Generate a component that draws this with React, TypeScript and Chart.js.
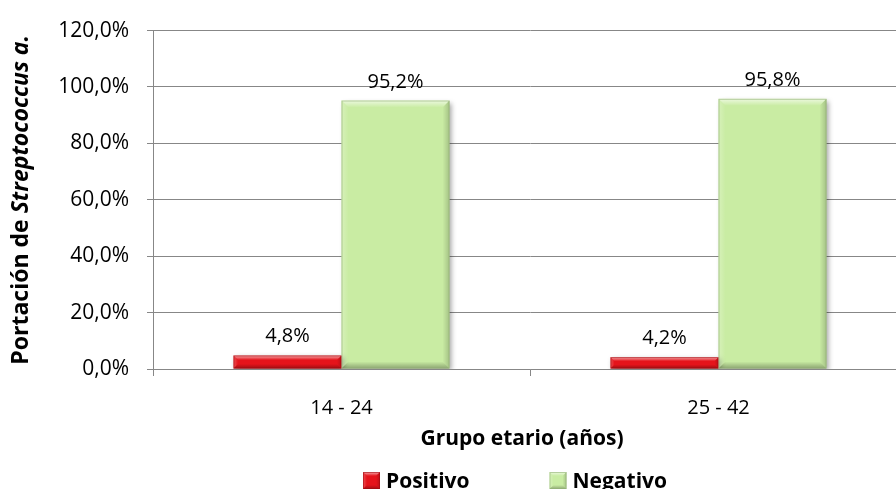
import React, { useEffect, useRef } from "react";
import { Chart, registerables } from "chart.js";

Chart.register(...registerables);

// Data
const categories = ["14 - 24", "25 - 42"];
const seriesNames = ["Positivo", "Negativo"];
const positivo = [4.8, 4.2];
const negativo = [95.2, 95.8];
const yMin = 0;
const yMax = 120;
const yStep = 20;
const xTitle = "Grupo etario (años)";
const yTitleRegular = "Portación de ";
const yTitleItalic = "Streptococcus a.";

const FONT = "'Open Sans', sans-serif";
const fmt = (v: number) => v.toFixed(1).replace(".", ",") + "%";

const palettes = [
  { fill: "#E5141B", dark: "#A00C10" },
  { fill: "#C9ECA3", dark: "#93B276" },
];

// Soft bevel on a rectangle
function bevel(ctx: CanvasRenderingContext2D, l: number, t: number, r: number, b: number, maxEdge: number, dark: string) {
  const w = r - l;
  const h = b - t;
  const e = Math.min(maxEdge, h * 0.35, w * 0.35);
  ctx.save();
  let g = ctx.createLinearGradient(0, t, 0, t + e);
  g.addColorStop(0, "rgba(255,255,255,0.65)");
  g.addColorStop(1, "rgba(255,255,255,0)");
  ctx.fillStyle = g;
  ctx.beginPath();
  ctx.moveTo(l, t); ctx.lineTo(r, t); ctx.lineTo(r - e, t + e); ctx.lineTo(l + e, t + e); ctx.closePath();
  ctx.fill();

  g = ctx.createLinearGradient(l, 0, l + e, 0);
  g.addColorStop(0, "rgba(255,255,255,0.25)");
  g.addColorStop(1, "rgba(255,255,255,0)");
  ctx.fillStyle = g;
  ctx.beginPath();
  ctx.moveTo(l, t); ctx.lineTo(l + e, t + e); ctx.lineTo(l + e, b - e); ctx.lineTo(l, b); ctx.closePath();
  ctx.fill();

  g = ctx.createLinearGradient(r, 0, r - e, 0);
  g.addColorStop(0, "rgba(0,0,0,0.18)");
  g.addColorStop(1, "rgba(0,0,0,0)");
  ctx.fillStyle = g;
  ctx.beginPath();
  ctx.moveTo(r, t); ctx.lineTo(r, b); ctx.lineTo(r - e, b - e); ctx.lineTo(r - e, t + e); ctx.closePath();
  ctx.fill();

  g = ctx.createLinearGradient(0, b, 0, b - e);
  g.addColorStop(0, "rgba(0,0,0,0.3)");
  g.addColorStop(1, "rgba(0,0,0,0)");
  ctx.fillStyle = g;
  ctx.beginPath();
  ctx.moveTo(l, b); ctx.lineTo(r, b); ctx.lineTo(r - e, b - e); ctx.lineTo(l + e, b - e); ctx.closePath();
  ctx.fill();

  ctx.strokeStyle = dark;
  ctx.globalAlpha = 0.6;
  ctx.lineWidth = 1;
  ctx.strokeRect(l + 0.5, t + 0.5, w - 1, h - 1);
  ctx.restore();
}

const barDecor = {
  id: "barDecor",
  beforeDatasetsDraw(chart: any) {
    const ctx = chart.ctx;
    ctx.save();
    ctx.shadowColor = "rgba(0,0,0,0.35)";
    ctx.shadowBlur = 5;
    ctx.shadowOffsetX = 2;
    ctx.shadowOffsetY = 2;
  },
  afterDatasetsDraw(chart: any) {
    const ctx = chart.ctx;
    ctx.restore();
    chart.data.datasets.forEach((ds: any, di: number) => {
      const meta = chart.getDatasetMeta(di);
      const pal = palettes[di];
      meta.data.forEach((bar: any, i: number) => {
        const { x, y, base, width } = bar.getProps(["x", "y", "base", "width"], true);
        const l = x - width / 2;
        const r = x + width / 2;
        const t = Math.min(y, base);
        const b = Math.max(y, base);
        bevel(ctx, l, t, r, b, 7, pal.dark);
        // value label
        ctx.save();
        ctx.font = `20px ${FONT}`;
        ctx.fillStyle = "#000";
        ctx.textAlign = "center";
        ctx.textBaseline = "alphabetic";
        ctx.fillText(fmt(ds.data[i]), x, t - 13);
        ctx.restore();
      });
    });
  },
};

const titlesAndLegend = {
  id: "titlesAndLegend",
  afterDraw(chart: any) {
    const ctx = chart.ctx;
    const area = chart.chartArea;
    // rotated y-axis title with italic species name
    ctx.save();
    ctx.translate(21, (area.top + area.bottom) / 2);
    ctx.rotate(-Math.PI / 2);
    ctx.fillStyle = "#000";
    ctx.textBaseline = "middle";
    ctx.textAlign = "left";
    const fReg = `bold 23px ${FONT}`;
    const fIt = `italic bold 23px ${FONT}`;
    ctx.font = fReg;
    const w1 = ctx.measureText(yTitleRegular).width;
    ctx.font = fIt;
    const w2 = ctx.measureText(yTitleItalic).width;
    const sx = -(w1 + w2) / 2;
    ctx.font = fReg;
    ctx.fillText(yTitleRegular, sx, 0);
    ctx.font = fIt;
    ctx.fillText(yTitleItalic, sx + w1, 0);
    ctx.restore();

    // x-axis title
    ctx.save();
    ctx.font = `bold 21px ${FONT}`;
    ctx.fillStyle = "#000";
    ctx.textAlign = "center";
    ctx.textBaseline = "alphabetic";
    ctx.fillText(xTitle, 522, 445);
    ctx.restore();

    // legend
    ctx.save();
    ctx.font = `bold 21px ${FONT}`;
    ctx.fillStyle = "#000";
    ctx.textBaseline = "alphabetic";
    ctx.textAlign = "left";
    const box = 17;
    const gapBoxText = 6;
    const gapItems = 80;
    const widths = chart.data.datasets.map((d: any) => box + gapBoxText + ctx.measureText(d.label).width);
    const total = widths.reduce((a: number, b: number) => a + b, 0) + gapItems * (widths.length - 1);
    let x = 515 - total / 2;
    const baseline = 488;
    chart.data.datasets.forEach((d: any, di: number) => {
      const pal = palettes[di];
      const top = 472;
      ctx.fillStyle = pal.fill;
      ctx.fillRect(x, top, box, box);
      bevel(ctx, x, top, x + box, top + box, 4, pal.dark);
      ctx.fillStyle = "#000";
      ctx.fillText(d.label, x + box + gapBoxText, baseline);
      x += widths[di] + gapItems;
    });
    ctx.restore();
  },
};

export default function App() {
  const ref = useRef<HTMLCanvasElement>(null);

  useEffect(() => {
    const grid = "#878787";
    const chart = new Chart(ref.current as HTMLCanvasElement, {
      type: "bar",
      data: {
        labels: categories,
        datasets: [
          { label: seriesNames[0], data: positivo, backgroundColor: palettes[0].fill, borderWidth: 0, barPercentage: 1, categoryPercentage: 0.573 },
          { label: seriesNames[1], data: negativo, backgroundColor: palettes[1].fill, borderWidth: 0, barPercentage: 1, categoryPercentage: 0.573 },
        ],
      },
      options: {
        responsive: false,
        animation: false,
        layout: { padding: { top: 25, right: 3, bottom: 30, left: 0 } },
        plugins: {
          legend: { display: false },
          tooltip: { enabled: false },
        },
        scales: {
          x: {
            afterFit: (s: any) => { s.height = 90; },
            grid: { drawOnChartArea: false, drawTicks: true, tickLength: 7, color: grid },
            border: { color: grid, width: 1 },
            ticks: { color: "#000", font: { family: FONT, size: 20 }, padding: 20 },
            title: { display: false },
          },
          y: {
            min: yMin,
            max: yMax,
            afterFit: (s: any) => { s.width = 153; },
            grid: { color: grid, lineWidth: 1, drawTicks: true, tickLength: 6 },
            border: { color: grid, width: 1 },
            ticks: {
              stepSize: yStep,
              color: "#000",
              font: { family: FONT, size: 21 },
              padding: 18,
              callback: (v: any) => fmt(Number(v)),
            },
          },
        },
      },
      plugins: [barDecor, titlesAndLegend],
    } as any);
    return () => chart.destroy();
  }, []);

  return (
    <div style={{ position: "fixed", left: 0, top: 0, width: 896, height: 489, overflow: "hidden", background: "#fff" }}>
      <canvas ref={ref} width={910} height={489} style={{ display: "block" }} />
    </div>
  );
}
